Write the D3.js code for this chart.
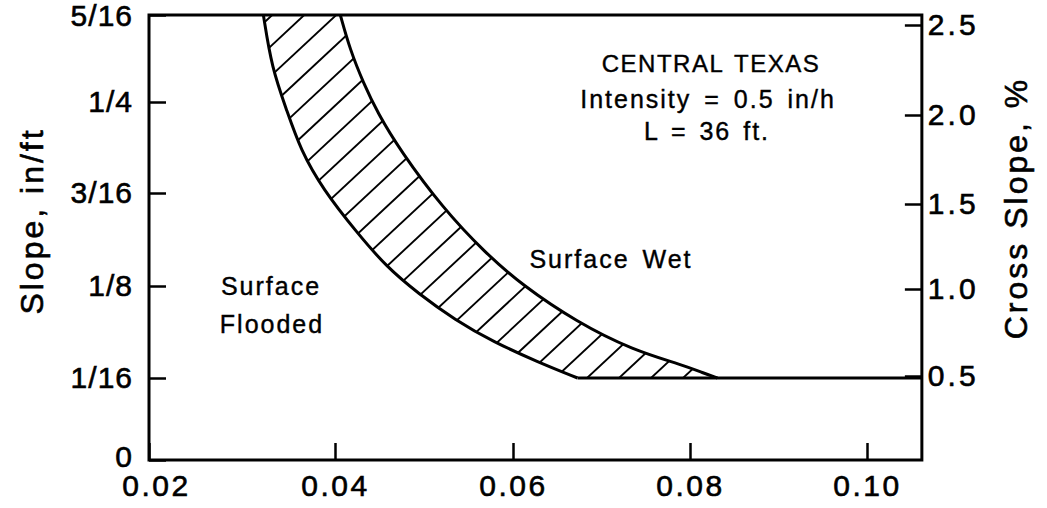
<!DOCTYPE html>
<html><head><meta charset="utf-8">
<script src="https://cdn.jsdelivr.net/npm/d3@7"></script>
<style>
html,body{margin:0;padding:0;background:#fff;}
svg text{font-family:"Liberation Sans", Arial, Helvetica, sans-serif; fill:#000;}
</style></head><body>
<svg id="chart" width="1047" height="508"></svg>
<script>
// ---- data ----
const xTicks = [0.02, 0.04, 0.06, 0.08, 0.10];
const xTickLabels = ["0.02", "0.04", "0.06", "0.08", "0.10"];
const xMax = 0.1062;
const slopeTicks = [0, 1/16, 1/8, 3/16, 1/4, 5/16];
const slopeTickLabels = ["0", "1/16", "1/8", "3/16", "1/4", "5/16"];
const crossTicks = [0.5, 1.0, 1.5, 2.0, 2.5];
const crossTickLabels = ["0.5", "1.0", "1.5", "2.0", "2.5"];
const minSlope = 1/16;
// boundary: surface flooded / band
const floodedX = [0.0323, 0.0332, 0.0348, 0.0363, 0.0387, 0.0425, 0.0458, 0.0493, 0.0535, 0.0578, 0.0628, 0.0673];
const floodedY = [0.3125, 0.2744, 0.2445, 0.2170, 0.1900, 0.1606, 0.1378, 0.1202, 0.1019, 0.0870, 0.0734, 0.0625];
// boundary: band / surface wet
const wetX = [0.0406, 0.0417, 0.0432, 0.0448, 0.0473, 0.0521, 0.0569, 0.0610, 0.0672, 0.0735, 0.0792, 0.0815, 0.0831];
const wetY = [0.3125, 0.2874, 0.2636, 0.2424, 0.2170, 0.1774, 0.1472, 0.1257, 0.1005, 0.0815, 0.0713, 0.0659, 0.0625];
const notes = ["CENTRAL TEXAS", "Intensity = 0.5 in/h", "L = 36 ft."];
const regionLabels = ["Surface Wet", "Surface", "Flooded"];

// ---- scales (calibrated to the scanned axes) ----
const svg = d3.select("#chart");
const x = d3.scaleLinear().domain(xTicks).range([149, 335, 513, 690, 867]);
const y = d3.scaleLinear().domain(slopeTicks).range([460, 378, 286, 193, 102, 15]);
const y2 = d3.scaleLinear().domain(crossTicks).range([376, 289, 204, 115, 25]);

const X0 = x(0.02), X1 = x(xMax), Y0 = y(0), Y1 = y(5/16);
const fontFam = '"Liberation Sans", Arial, Helvetica, sans-serif';

// ---- hatched band ----
const flooded = floodedX.map((d, i) => [d, floodedY[i]]);
const wet = wetX.map((d, i) => [d, wetY[i]]);
const line = d3.line().x(d => x(d[0])).y(d => y(d[1])).curve(d3.curveBasis);
const defs = svg.append("defs");
defs.append("clipPath").attr("id", "clipA").append("path")
  .attr("d", line(flooded) + `L${X1},${y(minSlope)}L${X1},${Y1}Z`);
defs.append("clipPath").attr("id", "clipB").append("path")
  .attr("d", line(wet) + `L${X0},${y(minSlope)}L${X0},${Y1}Z`);

const hatchG = svg.append("g").attr("clip-path", "url(#clipA)")
  .append("g").attr("clip-path", "url(#clipB)");
const tanA = Math.tan(43 * Math.PI / 180);
const yb = y(minSlope);
const anchor = 587, spacing = 32;
const ks = d3.range(-6, 26);
hatchG.selectAll("line").data(ks).join("line")
  .attr("x1", k => anchor - k * spacing - 20 / tanA)
  .attr("y1", yb + 20)
  .attr("x2", k => anchor - k * spacing + yb / tanA)
  .attr("y2", 0)
  .attr("stroke", "#000").attr("stroke-width", 1.9);

// boundary curves
svg.append("path").attr("d", line(flooded)).attr("fill", "none").attr("stroke", "#000").attr("stroke-width", 3);
svg.append("path").attr("d", line(wet)).attr("fill", "none").attr("stroke", "#000").attr("stroke-width", 3);
// minimum slope line
svg.append("line")
  .attr("x1", x(floodedX[floodedX.length - 1])).attr("x2", X1)
  .attr("y1", y(minSlope)).attr("y2", y(minSlope))
  .attr("stroke", "#000").attr("stroke-width", 3);

// ---- axes ----
function styleAxis(g, size, ls) {
  g.attr("font-family", fontFam).attr("font-size", size);
  g.select(".domain").remove();
  g.selectAll(".tick line").attr("stroke", "#000").attr("stroke-width", 2.5);
  g.selectAll(".tick text").attr("fill", "#000").attr("stroke", "#000")
    .attr("stroke-width", 0.6).attr("letter-spacing", ls);
}
svg.append("g").attr("transform", `translate(0,${Y0})`)
  .call(d3.axisBottom(x).tickValues(xTicks).tickFormat((d, i) => xTickLabels[i])
    .tickSizeInner(-17).tickSizeOuter(0).tickPadding(15))
  .call(g => styleAxis(g, 30, 2.5))
  .call(g => g.selectAll(".tick text").filter(d => d === 0.02).attr("dx", 7));
svg.append("g").attr("transform", `translate(${X0},0)`)
  .call(d3.axisLeft(y).tickValues(slopeTicks).tickFormat((d, i) => slopeTickLabels[i])
    .tickSizeInner(-17).tickSizeOuter(0).tickPadding(16))
  .call(g => styleAxis(g, 30, 1))
  .call(g => g.selectAll(".tick text").filter(d => d === 0).attr("dy", "0.22em"))
  .call(g => g.selectAll(".tick text").filter(d => d === 5/16).attr("dy", "0.36em"));
svg.append("g").attr("transform", `translate(${X1},0)`)
  .call(d3.axisRight(y2).tickValues(crossTicks).tickFormat((d, i) => crossTickLabels[i])
    .tickSizeInner(-17).tickSizeOuter(0).tickPadding(6))
  .call(g => styleAxis(g, 30, 3));

// frame
svg.append("rect").attr("x", X0).attr("y", Y1).attr("width", X1 - X0).attr("height", Y0 - Y1)
  .attr("fill", "none").attr("stroke", "#000").attr("stroke-width", 3);

// axis titles
svg.append("text").attr("transform", "translate(43,221) rotate(-90)")
  .attr("text-anchor", "middle").attr("font-size", 32).attr("letter-spacing", 3)
  .attr("stroke", "#000").attr("stroke-width", 0.6)
  .text("Slope, in/ft");
svg.append("text").attr("transform", "translate(1027,208) rotate(-90)")
  .attr("text-anchor", "middle").attr("font-size", 32).attr("letter-spacing", 3)
  .attr("stroke", "#000").attr("stroke-width", 0.6)
  .text("Cross Slope, %");

// annotations
const noteG = svg.append("g").attr("text-anchor", "middle").attr("stroke", "#000").attr("stroke-width", 0.4);
noteG.append("text").attr("x", 711).attr("y", 72).attr("font-size", 24).attr("letter-spacing", 1.5).attr("word-spacing", 3).text(notes[0]);
noteG.append("text").attr("x", 708).attr("y", 108).attr("font-size", 25).attr("letter-spacing", 2).attr("word-spacing", 4).text(notes[1]);
noteG.append("text").attr("x", 707).attr("y", 140).attr("font-size", 25).attr("letter-spacing", 2).attr("word-spacing", 3).text(notes[2]);
noteG.append("text").attr("x", 611).attr("y", 268).attr("font-size", 25).attr("letter-spacing", 2).attr("word-spacing", 4).text(regionLabels[0]);
noteG.append("text").attr("x", 271).attr("y", 295).attr("font-size", 25).attr("letter-spacing", 2).text(regionLabels[1]);
noteG.append("text").attr("x", 272).attr("y", 333).attr("font-size", 25).attr("letter-spacing", 2).text(regionLabels[2]);
</script>
</body></html>
